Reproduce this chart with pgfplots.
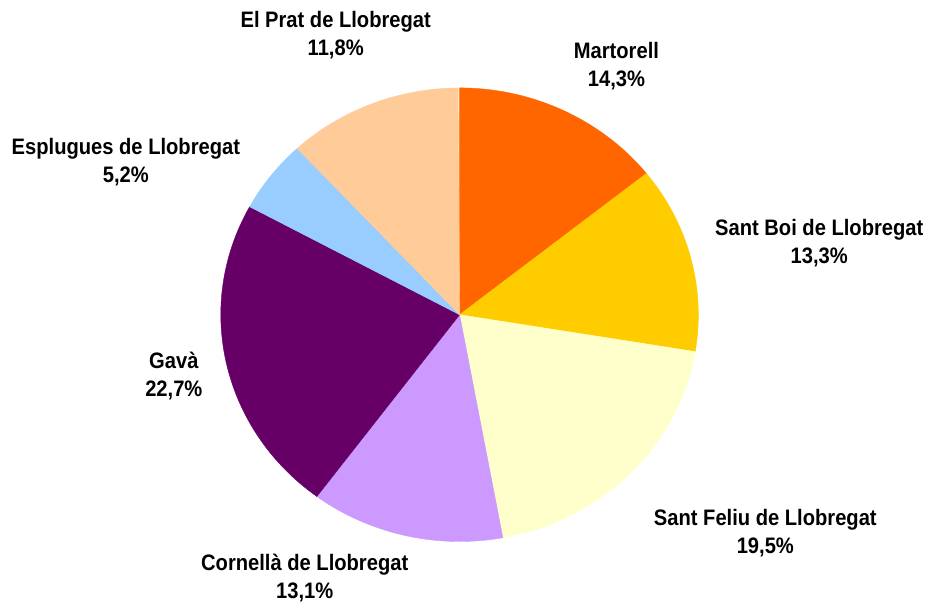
\documentclass[border=0pt]{standalone}
\usepackage{fontspec}
\setmainfont{Liberation Sans}[FakeStretch=0.9]
\usepackage{pgfplots}
\usepackage{pgfplotstable}
\pgfplotsset{compat=1.18}

\definecolor{c0}{HTML}{FF6600}
\definecolor{c1}{HTML}{FFCC00}
\definecolor{c2}{HTML}{FFFFCC}
\definecolor{c3}{HTML}{CC99FF}
\definecolor{c4}{HTML}{660066}
\definecolor{c5}{HTML}{99CCFF}
\definecolor{c6}{HTML}{FFCC99}

% share (%), label position in picture units (1 unit = 0.5pt)
\pgfplotstableread[col sep=comma]{
name,value,lx,ly
Martorell,14.3,617,539
Sant Boi de Llobregat,13.3,820,362
Sant Feliu de Llobregat,19.5,766,71
Cornellà de Llobregat,13.1,305,26
Gavà,22.7,174,229
Esplugues de Llobregat,5.2,126,443
El Prat de Llobregat,11.8,336,570
}\piedata

\begin{document}
\begin{tikzpicture}
\begin{axis}[
    x=0.5pt, y=0.5pt,
    xmin=0, xmax=930, ymin=0, ymax=605,
    hide axis, clip=false,
  ]
  \path (axis cs:0,0) rectangle (axis cs:930,605);
  \def\astart{90}
  \pgfplotsforeachungrouped \i in {0,...,6}{
    \pgfplotstablegetelem{\i}{value}\of\piedata \let\v\pgfplotsretval
    \pgfplotstablegetelem{\i}{name}\of\piedata \let\nm\pgfplotsretval
    \pgfplotstablegetelem{\i}{lx}\of\piedata \let\lx\pgfplotsretval
    \pgfplotstablegetelem{\i}{ly}\of\piedata \let\ly\pgfplotsretval
    \pgfmathsetmacro\aend{\astart-3.6*\v}
    \pgfmathprintnumberto[fixed,fixed zerofill,precision=1,use comma,assume math mode=true]{\v}{\pct}
    \edef\temp{%
      \noexpand\filldraw[c\i, line width=0.2pt] (axis cs:460,290) -- ++(\astart:119.5pt and 113.5pt)
        arc[start angle=\astart, end angle=\aend, x radius=119.5pt, y radius=113.5pt] -- cycle;
      \noexpand\node[align=center, font=\noexpand\bfseries\noexpand\fontsize{11.2}{14}\noexpand\selectfont]
        at (axis cs:\lx,\ly) {\nm\noexpand\\\pct\noexpand\%};
    }%
    \temp
    \global\let\astart\aend
  }
\end{axis}
\end{tikzpicture}
\end{document}
